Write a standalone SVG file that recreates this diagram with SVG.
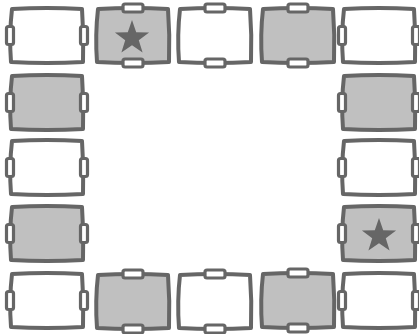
<svg xmlns="http://www.w3.org/2000/svg" xmlns:xlink="http://www.w3.org/1999/xlink" width="419" height="334" viewBox="0 0 419 334">
<style>
.w{fill:#ffffff;stroke:#666666;stroke-width:4;stroke-linejoin:round}
.g{fill:#c0c0c0;stroke:#666666;stroke-width:4;stroke-linejoin:round}
.tab{fill:#ffffff;stroke:#666666;stroke-width:3.2}
.star{fill:#666666}
</style>
<defs>
<path id="body" d="M2,1 Q37,-1 72,1 Q74,27 73,54 Q37,56 1,54 Q-1,27 2,1 Z"/>
<g id="lr"><rect class="tab" x="-3.5" y="18.5" width="7" height="18" rx="2"/><rect class="tab" x="70.5" y="18.5" width="7" height="18" rx="2"/></g>
<g id="tb"><rect class="tab" x="27" y="-4" width="20" height="8" rx="2"/><rect class="tab" x="27" y="51" width="20" height="8" rx="2"/></g>
<polygon id="st" class="star" points="0,-18 4.2,-5.8 17.1,-5.6 6.8,2.2 10.6,14.6 0,7.2 -10.6,14.6 -6.8,2.2 -17.1,-5.6 -4.2,-5.8"/>
</defs>
<g id="connectors"/>
<g id="t00" transform="translate(10,8)"><use xlink:href="#body" class="w"/><use xlink:href="#lr"/></g>
<g id="t01" transform="translate(96,8)"><use xlink:href="#body" class="g"/><use xlink:href="#tb"/><use xlink:href="#st" x="36" y="30"/></g>
<g id="t02" transform="translate(178,8)"><use xlink:href="#body" class="w"/><use xlink:href="#tb"/></g>
<g id="t03" transform="translate(261,8)"><use xlink:href="#body" class="g"/><use xlink:href="#tb"/></g>
<g id="t04" transform="translate(342,8)"><use xlink:href="#body" class="w"/><use xlink:href="#lr"/></g>
<g id="t10" transform="translate(10,75)"><use xlink:href="#body" class="g"/><use xlink:href="#lr"/></g>
<g id="t14" transform="translate(342,75)"><use xlink:href="#body" class="g"/><use xlink:href="#lr"/></g>
<g id="t20" transform="translate(10,140)"><use xlink:href="#body" class="w"/><use xlink:href="#lr"/></g>
<g id="t24" transform="translate(342,140)"><use xlink:href="#body" class="w"/><use xlink:href="#lr"/></g>
<g id="t30" transform="translate(10,206)"><use xlink:href="#body" class="g"/><use xlink:href="#lr"/></g>
<g id="t34" transform="translate(342,206)"><use xlink:href="#body" class="g"/><use xlink:href="#lr"/><use xlink:href="#st" x="37" y="30"/></g>
<g id="t40" transform="translate(10,273)"><use xlink:href="#body" class="w"/><use xlink:href="#lr"/></g>
<g id="t41" transform="translate(96,274)"><use xlink:href="#body" class="g"/><use xlink:href="#tb"/></g>
<g id="t42" transform="translate(178,274)"><use xlink:href="#body" class="w"/><use xlink:href="#tb"/></g>
<g id="t43" transform="translate(261,273)"><use xlink:href="#body" class="g"/><use xlink:href="#tb"/></g>
<g id="t44" transform="translate(342,273)"><use xlink:href="#body" class="w"/><use xlink:href="#lr"/></g>
</svg>
